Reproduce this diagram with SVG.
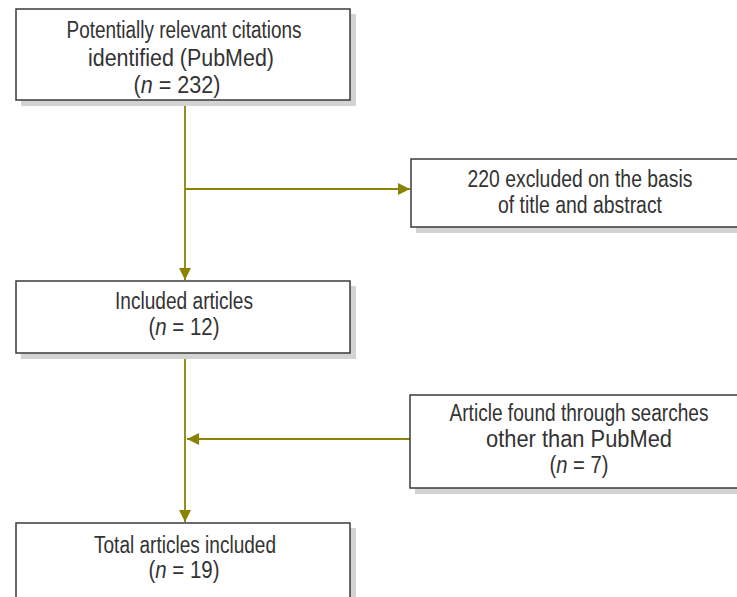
<svg xmlns="http://www.w3.org/2000/svg" width="737" height="597" viewBox="0 0 737 597">
<style>
.box{fill:#fff;stroke:#3a3a3a;stroke-width:1.5}
.sh{fill:#d3d3d3}
.t{font-family:"Liberation Sans",Arial,sans-serif;font-size:23px;fill:#333;text-anchor:middle}
.c{stroke:#8a8200;stroke-width:1.8;fill:none}
</style>
<defs>
<marker id="ah" viewBox="0 0 10 10" refX="10" refY="5" markerWidth="12" markerHeight="12" markerUnits="userSpaceOnUse" orient="auto">
<path d="M0,0 L10,5 L0,10 z" fill="#8a8200"/>
</marker>
</defs>
<rect width="737" height="597" fill="#fff"/>
<g id="connectors">
<line class="c" x1="185" y1="100" x2="185" y2="280" marker-end="url(#ah)"/>
<line class="c" x1="185" y1="189" x2="410" y2="189" marker-end="url(#ah)"/>
<line class="c" x1="185" y1="353" x2="185" y2="522" marker-end="url(#ah)"/>
<line class="c" x1="410" y1="439" x2="187" y2="439" marker-end="url(#ah)"/>
</g>
<g id="n1">
<rect class="sh" x="21" y="14" width="335" height="92"/>
<rect class="box" x="16" y="9" width="334" height="91"/>
<text class="t" x="184" y="38" textLength="235" lengthAdjust="spacingAndGlyphs">Potentially relevant citations</text>
<text class="t" x="181" y="66" textLength="186" lengthAdjust="spacingAndGlyphs">identified (PubMed)</text>
<text class="t" x="177" y="93" textLength="87" lengthAdjust="spacingAndGlyphs">(<tspan font-style="italic">n</tspan> = 232)</text>
</g>
<g id="n2">
<rect class="sh" x="416" y="164" width="340" height="69"/>
<rect class="box" x="411" y="159" width="335" height="68"/>
<text class="t" x="580" y="187" textLength="225" lengthAdjust="spacingAndGlyphs">220 excluded on the basis</text>
<text class="t" x="580" y="213" textLength="164" lengthAdjust="spacingAndGlyphs">of title and abstract</text>
</g>
<g id="n3">
<rect class="sh" x="21" y="286" width="335" height="73"/>
<rect class="box" x="16" y="281" width="334" height="72"/>
<text class="t" x="184" y="309" textLength="138" lengthAdjust="spacingAndGlyphs">Included articles</text>
<text class="t" x="184" y="335" textLength="71" lengthAdjust="spacingAndGlyphs">(<tspan font-style="italic">n</tspan> = 12)</text>
</g>
<g id="n4">
<rect class="sh" x="415" y="400" width="340" height="94"/>
<rect class="box" x="410" y="395" width="336" height="93"/>
<text class="t" x="579" y="421" textLength="259" lengthAdjust="spacingAndGlyphs">Article found through searches</text>
<text class="t" x="579" y="447" textLength="186" lengthAdjust="spacingAndGlyphs">other than PubMed</text>
<text class="t" x="579" y="473" textLength="59" lengthAdjust="spacingAndGlyphs">(<tspan font-style="italic">n</tspan> = 7)</text>
</g>
<g id="n5">
<rect class="sh" x="21" y="528" width="335" height="90"/>
<rect class="box" x="16" y="523" width="334" height="90"/>
<text class="t" x="185" y="553" textLength="182" lengthAdjust="spacingAndGlyphs">Total articles included</text>
<text class="t" x="184" y="578" textLength="71" lengthAdjust="spacingAndGlyphs">(<tspan font-style="italic">n</tspan> = 19)</text>
</g>
</svg>
